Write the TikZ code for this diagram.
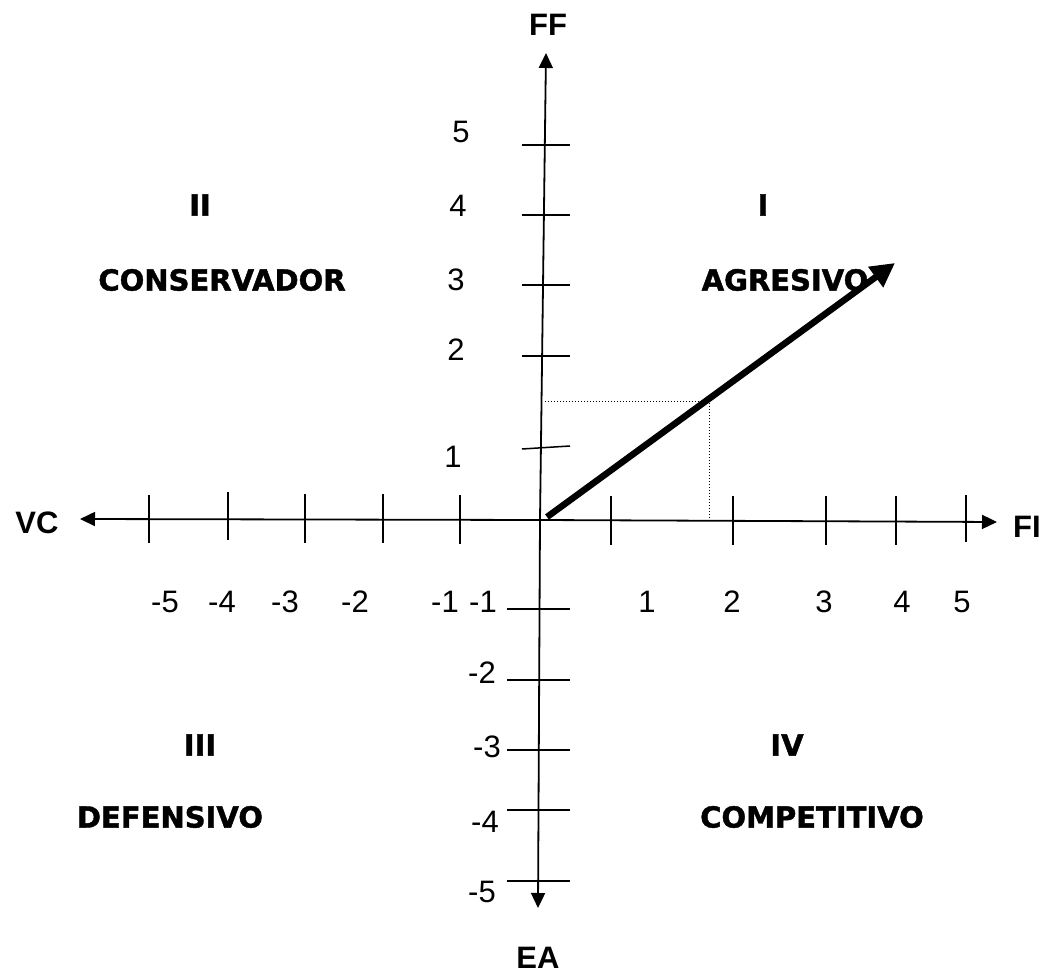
\documentclass[tikz,border=0pt]{standalone}
\usepackage{fontspec}
\setmainfont{Liberation Sans}
\newfontfamily\quadfont[BoldFont={DejaVu Sans Bold},BoldFeatures={FakeBold=1.5}]{DejaVu Sans}
\usetikzlibrary{arrows.meta}
\begin{document}
\begin{tikzpicture}[x=1pt,y=-1pt,
  axis/.style={line width=1.8pt,-{Triangle[length=15pt,width=14pt]}},
  tickline/.style={line width=1.5pt},
  num/.style={font=\fontsize{31}{31}\selectfont,inner sep=0pt},
  axlab/.style={font=\fontsize{31}{31}\selectfont\bfseries,inner sep=0pt},
  quad/.style={font=\quadfont\bfseries\fontsize{29}{29}\selectfont,inner sep=0pt},
  guide/.style={line width=1pt,dotted},
  vec/.style={line width=6.5pt,-{Triangle[length=24pt,width=24pt]}}]
\useasboundingbox (0,0) rectangle (1053,976);
% axes end points
\coordinate (Ytop) at (546,53);
\coordinate (Ybot) at (538,908);
\coordinate (Xleft) at (80,519);
\coordinate (Xright) at (997,522);
\coordinate (Xmid) at (540,520);
\draw[axis] (Xmid) -- (Xleft);
\draw[axis] (Xmid) -- (Xright);
\draw[axis] (Xmid) -- (Ytop);
\draw[axis] (Xmid) -- (Ybot);
% horizontal ticks
\foreach \x/\a/\b [count=\i] in {149/495/543,228/492/540,305/494/543,383/494/543,460/495/544,611/496/545,733/496/545,826/496/545,896/496/545,966/495/542}{
  \coordinate (hta\i) at (\x,\a);
  \coordinate (htb\i) at (\x,\b);
  \draw[tickline] (hta\i) -- (htb\i);
}
% vertical ticks (upper)
\foreach \y [count=\i] in {145,215,285,356}{
  \coordinate (vta\i) at (522,\y);
  \coordinate (vtb\i) at (570,\y);
  \draw[tickline] (vta\i) -- (vtb\i);
}
\coordinate (vta5) at (522,449);
\coordinate (vtb5) at (570,446);
\draw[tickline] (vta5) -- (vtb5);
% vertical ticks (lower)
\foreach \y [count=\i] in {609,680,750,810,881}{
  \coordinate (vla\i) at (507,\y);
  \coordinate (vlb\i) at (570,\y);
  \draw[tickline] (vla\i) -- (vlb\i);
}
% guide lines
\coordinate (Gy) at (545,402);
\coordinate (Gp) at (709,402);
\coordinate (Gx) at (709,520);
\draw[guide] (Gy) -- (Gp) -- (Gx);
% vector
\coordinate (Vs) at (547,517);
\coordinate (Ve) at (895,263);
\draw[vec] (Vs) -- (Ve);
% axis labels
\node[axlab] (FF) at (548,25) {FF};
\node[axlab] (VC) at (37,523) {VC};
\node[axlab] (FI) at (1027,527) {FI};
\node[axlab] (EA) at (538,958) {EA};
% vertical numbers
\node[num] (n5) at (461,132) {5};
\node[num] (n4) at (458,206) {4};
\node[num] (n3) at (456,280) {3};
\node[num] (n2) at (456,350) {2};
\node[num] (n1) at (453,457) {1};
\node[num] (m2) at (482,673) {-2};
\node[num] (m3) at (487,747) {-3};
\node[num] (m4) at (485,822) {-4};
\node[num] (m5) at (482,892) {-5};
% horizontal numbers
\node[num] (h5) at (165,602) {-5};
\node[num] (h4) at (222,602) {-4};
\node[num] (h3) at (285,602) {-3};
\node[num] (h2) at (355,602) {-2};
\node[num] (h1) at (445,602) {-1};
\node[num] (h1b) at (483,602) {-1};
\node[num] (p1) at (647,602) {1};
\node[num] (p2) at (732,602) {2};
\node[num] (p3) at (824,602) {3};
\node[num] (p4) at (902,602) {4};
\node[num] (p5) at (962,602) {5};
% quadrant labels
\node[quad] (qII) at (200,205) {II};
\node[quad] (qI) at (763,205) {I};
\node[quad] (cons) at (222,280) {CONSERVADOR};
\node[quad] (agr) at (785,280) {AGRESIVO};
\node[quad] (qIII) at (200,745) {III};
\node[quad] (qIV) at (787,745) {IV};
\node[quad] (def) at (170,817) {DEFENSIVO};
\node[quad] (comp) at (812,817) {COMPETITIVO};
\end{tikzpicture}
\end{document}
